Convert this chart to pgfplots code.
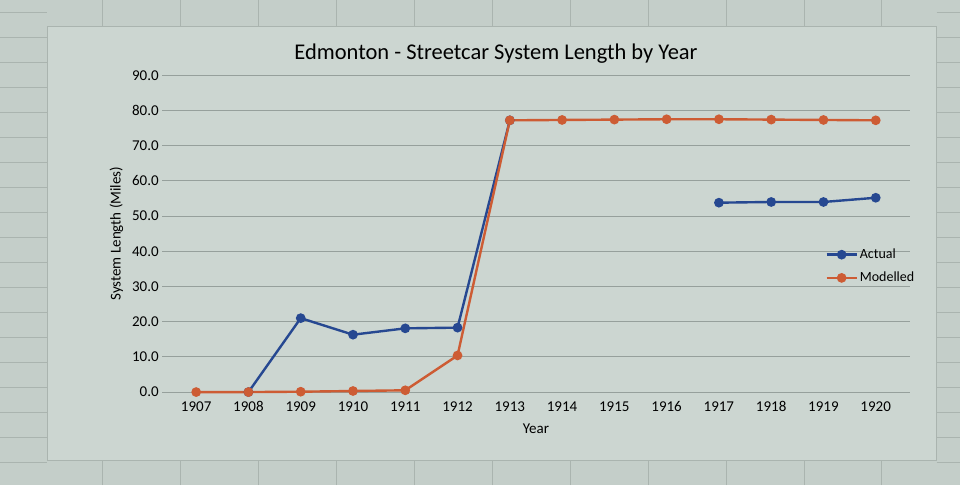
\documentclass[border=0pt]{standalone}
\usepackage{pgfplots}
\pgfplotsset{compat=1.18}
\usepackage{fontspec}
\setmainfont{Carlito}
\definecolor{bgout}{RGB}{196,206,201}
\definecolor{bgchart}{RGB}{204,214,209}
\definecolor{gridc}{RGB}{150,160,156}
\definecolor{cellc}{RGB}{170,180,175}
\definecolor{actualc}{RGB}{38,72,145}
\definecolor{modelc}{RGB}{205,92,52}
\begin{document}
\begin{tikzpicture}
% page background (spreadsheet) and chart area
\fill[bgout] (-162pt,-93pt) rectangle (798pt,392pt);
\foreach \y in {-70,-45,-20,5,30,55,80,105,130,155,180,205,230,255,280,305,330,355,380}{
  \draw[cellc,line width=0.6pt] (-162pt,\y pt) -- (-115pt,\y pt);
  \draw[cellc,line width=0.6pt] (775pt,\y pt) -- (798pt,\y pt);}
\foreach \x in {-60,18,96,174,252,330,408,486,564,642,720}{
  \draw[cellc,line width=0.6pt] (\x pt,392pt) -- (\x pt,366pt);
  \draw[cellc,line width=0.6pt] (\x pt,-93pt) -- (\x pt,-68pt);}
\fill[bgchart] (-115pt,-68pt) rectangle (775pt,366pt);
\draw[cellc,line width=0.6pt] (-115pt,-68pt) rectangle (775pt,366pt);
\begin{axis}[
  at={(0pt,0pt)}, anchor=south west,
  scale only axis, width=748pt, height=317pt,
  xmin=1906.35, xmax=1920.65, ymin=0, ymax=90,
  xtick={1907,...,1920},
  ytick={0,10,...,90},
  xticklabel style={/pgf/number format/1000 sep={}, font=\fontsize{15}{17}\selectfont, yshift=-6pt},
  yticklabel style={/pgf/number format/.cd, fixed, fixed zerofill, precision=1, /tikz/.cd, font=\fontsize{15}{17}\selectfont},
  /pgf/number format/assume math mode=true,
  x tick label style={/pgf/number format/1000 sep={}},
  axis line style={draw=none},
  tick style={draw=none},
  ymajorgrids, grid style={gridc, line width=0.8pt},
  axis x line*=bottom,
  xlabel={Year}, ylabel={System Length (Miles)},
  xlabel style={font=\fontsize{15}{17}\selectfont, yshift=-5pt},
  ylabel style={font=\fontsize{15}{17}\selectfont, yshift=2pt},
  title={Edmonton - Streetcar System Length by Year},
  title style={font=\fontsize{22.5}{26}\selectfont, yshift=2pt, xshift=-40pt},
  unbounded coords=jump,
  legend style={draw=none, fill=none, at={(0.883,0.397)}, anchor=west,
    font=\fontsize{14}{16}\selectfont, row sep=8pt},
  legend cell align=left,
  legend image code/.code={
    \draw[#1] (0pt,0pt) -- (30pt,0pt);
    \fill[#1] (15pt,0pt) circle (3.6pt);},
  clip=false,
]
\addplot[actualc, line width=2.4pt, mark=*, mark size=3.6pt] coordinates {
  (1908,0) (1909,21.0) (1910,16.3) (1911,18.1) (1912,18.3) (1913,77.2)
  (1914,nan) (1915,nan) (1916,nan)
  (1917,53.8) (1918,54.0) (1919,54.0) (1920,55.2)};
\addlegendentry{Actual}
\addplot[modelc, line width=2.4pt, mark=*, mark size=3.6pt] coordinates {
  (1907,0) (1908,0) (1909,0.1) (1910,0.3) (1911,0.5) (1912,10.4) (1913,77.2)
  (1914,77.3) (1915,77.4) (1916,77.5) (1917,77.5) (1918,77.4) (1919,77.3) (1920,77.2)};
\addlegendentry{Modelled}
\end{axis}
\end{tikzpicture}
\end{document}
